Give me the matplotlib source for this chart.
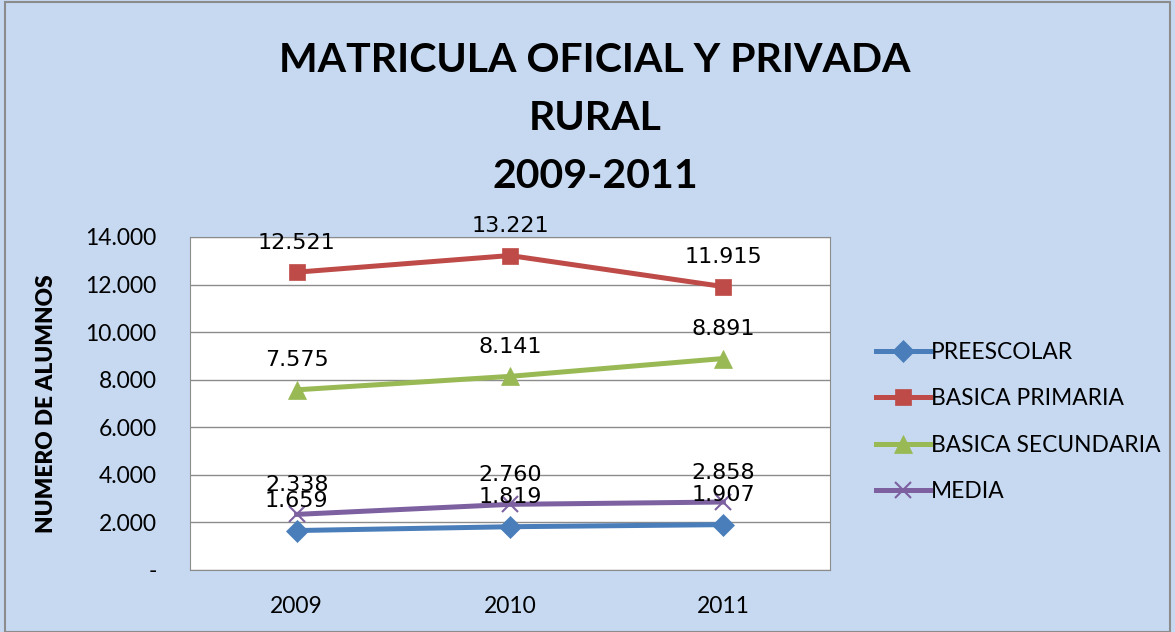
import matplotlib.pyplot as plt
from matplotlib.ticker import FuncFormatter

years = ["2009", "2010", "2011"]
preescolar = [1659, 1819, 1907]
basica_primaria = [12521, 13221, 11915]
basica_secundaria = [7575, 8141, 8891]
media = [2338, 2760, 2858]

series = [
    ("PREESCOLAR", preescolar, "#4A7EBB", "D", 11),
    ("BASICA PRIMARIA", basica_primaria, "#BE4B48", "s", 11),
    ("BASICA SECUNDARIA", basica_secundaria, "#98B954", "^", 13),
    ("MEDIA", media, "#7D60A0", "x", 12),
]

def miles(v):
    return f"{int(round(v)):,}".replace(",", ".")

bg = "#C6D9F1"
fig = plt.figure(figsize=(11.75, 6.32), dpi=100, facecolor=bg)
ax = fig.add_axes([190 / 1175, 62 / 632, 640 / 1175, 333 / 632])
ax.set_facecolor("white")

x = list(range(len(years)))
for name, vals, color, mk, ms in series:
    ax.plot(x, vals, color=color, lw=3.6, marker=mk, markersize=ms,
            markeredgewidth=1.5 if mk == "x" else 0.5, markeredgecolor=color,
            label=name)
    for xi, v in zip(x, vals):
        ax.annotate(miles(v), (xi, v), xytext=(0, 14), textcoords="offset points",
                    ha="center", va="bottom", fontsize=16, family="DejaVu Sans")

ax.set_xlim(-0.5, 2.5)
ax.set_ylim(0, 14000)
ax.set_yticks(range(0, 14001, 2000))
ax.yaxis.set_major_formatter(FuncFormatter(lambda v, p: "-" if v == 0 else miles(v)))
ax.set_xticks(x)
ax.set_xticklabels(years)
ax.tick_params(axis="both", length=0, labelsize=16.5)
ax.tick_params(axis="y", pad=24)
ax.tick_params(axis="x", pad=19)
for lab in ax.get_xticklabels() + ax.get_yticklabels():
    lab.set_family("Lato")
ax.grid(axis="y", color="#8C8C8C", lw=1)
for s in ax.spines.values():
    s.set_color("#8C8C8C")

ax.set_ylabel("NUMERO DE ALUMNOS", fontsize=16.3, fontweight="heavy", family="Lato")
ax.yaxis.set_label_coords(-0.208, 0.5)

for txt, yy in [("MATRICULA OFICIAL Y PRIVADA", 60), ("RURAL", 118), ("2009-2011", 177)]:
    fig.text(595 / 1175, 1 - yy / 632, txt, ha="center", va="center",
             fontsize=29.5, fontweight="bold", family="Lato")

leg = fig.legend(loc="center left", bbox_to_anchor=(855 / 1175, 1 - 422 / 632),
                 frameon=False, prop={"family": "Lato", "size": 16.4},
                 handlelength=2.4, labelspacing=1.1, handletextpad=0.05)

fig.patches.append(plt.Rectangle((0.004, 0.0), 0.992, 0.997, transform=fig.transFigure,
                                 fill=False, edgecolor="#8C8C8C", lw=1.5))

fig.savefig("out.png", dpi=100, facecolor=bg)
